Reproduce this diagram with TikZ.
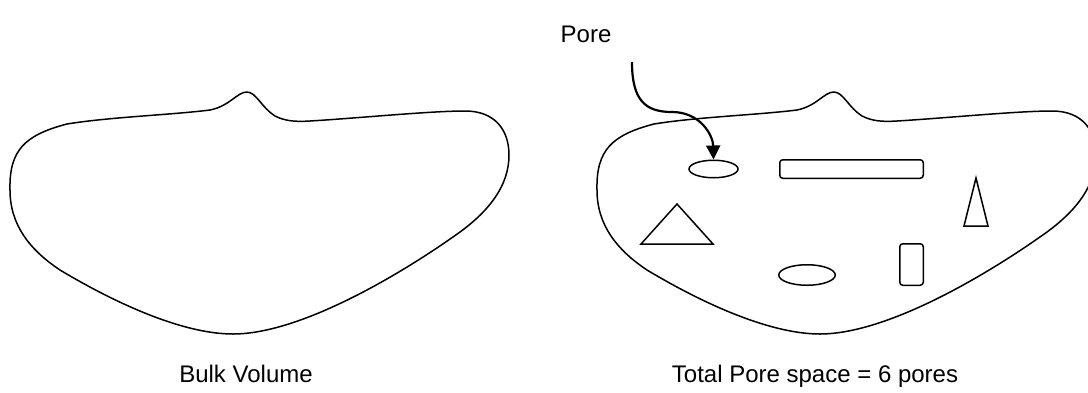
\documentclass[tikz,border=0pt]{standalone}
\usepackage{fontspec}
\setmainfont{Liberation Sans}
\usetikzlibrary{arrows.meta, shapes.geometric}

\tikzset{
  rock/.pic={
    \draw[outline]
      (10,190) .. controls (9,150) and (25,135) .. (67,124)
      .. controls (110,117) and (170,115) .. (210,110)
      .. controls (230,106) and (237,92) .. (247,92)
      .. controls (256,92) and (262,108) .. (275,116)
      .. controls (285,121) and (295,122) .. (310,121)
      .. controls (360,118) and (430,111) .. (465,111)
      .. controls (495,111) and (509,130) .. (509,155)
      .. controls (509,185) and (490,210) .. (460,232)
      .. controls (400,275) and (300,334) .. (233,334)
      .. controls (180,334) and (110,300) .. (60,270)
      .. controls (30,250) and (10,225) .. (10,190) -- cycle;
  }
}

\begin{document}
\begin{tikzpicture}[
    x=0.5pt, y=-0.5pt,
    outline/.style={line width=0.75pt, line join=round},
    porebox/.style={draw, line width=0.75pt, rounded corners=1.5pt, inner sep=0pt},
    poreoval/.style={draw, ellipse, line width=0.75pt, inner sep=0pt},
    pointer/.style={-{Triangle[length=7pt, width=7pt]}, line width=1.1pt},
    caption/.style={font=\fontsize{12}{14}\selectfont, inner sep=0pt, anchor=base}
  ]
  \useasboundingbox (0,0) rectangle (1088,392);

  % Bulk sample and porous sample
  \pic (bulk) at (0,0) {rock};
  \pic (porous) at (587,0) {rock};

  % Pores
  \node[poreoval, minimum width=24.5pt, minimum height=8.75pt] (pore1) at (713.5,169) {};
  \node[porebox, minimum width=71.75pt, minimum height=9.25pt] (pore2) at (851.5,169) {};
  \node[poreoval, minimum width=28.25pt, minimum height=10.25pt] (pore3) at (807,275) {};
  \node[porebox, minimum width=11.75pt, minimum height=20.75pt] (pore4) at (911.5,264.5) {};
  \draw[outline, line join=miter] (677,204) -- (713,244) -- (641,244) -- cycle;
  \draw[outline, line join=miter] (976,178) -- (988,226) -- (964,226) -- cycle;

  % Labels
  \node[caption] (porelabel) at (586,42) {Pore};
  \node[caption] (bulklabel) at (246,382) {Bulk Volume};
  \node[caption] (totallabel) at (815,382) {Total Pore space = 6 pores};

  % Pointer to a pore
  \coordinate (arrowtail) at (632,62);
  \draw[pointer]
    (arrowtail) .. controls (632,100) and (645,112) .. (672,112)
    .. controls (700,112) and (713,135) .. (pore1.north);
\end{tikzpicture}
\end{document}
